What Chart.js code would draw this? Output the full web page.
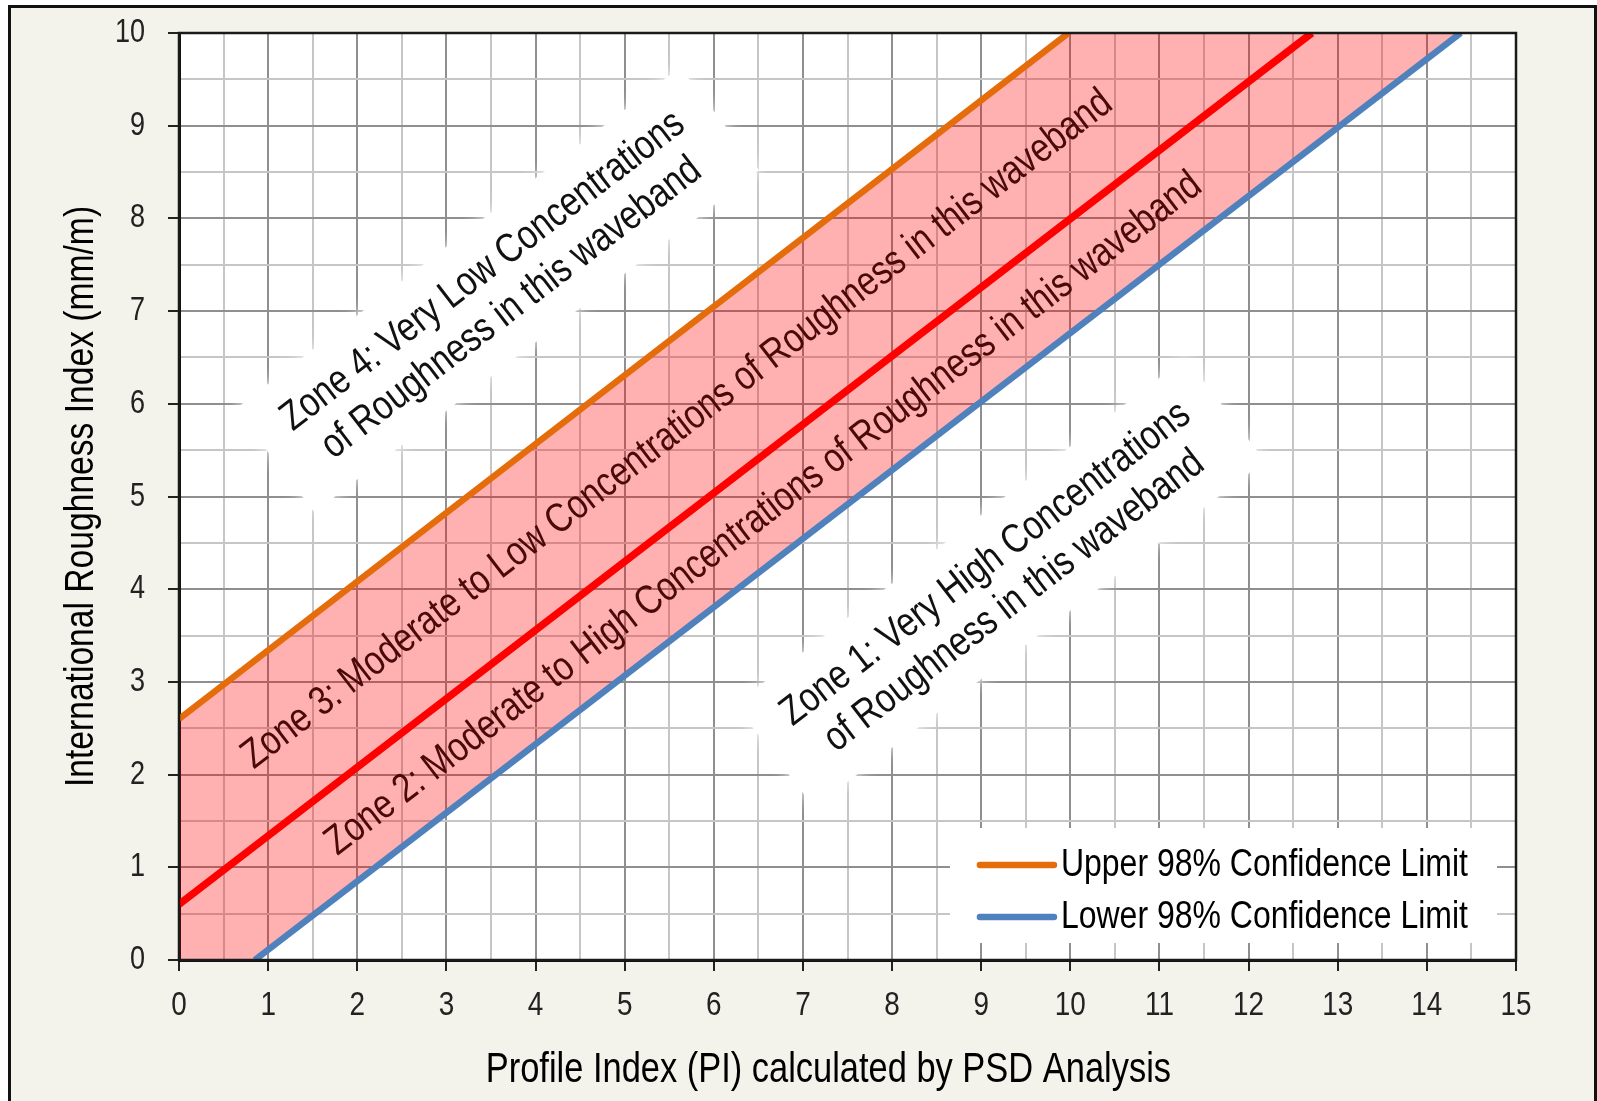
<!DOCTYPE html>
<html>
<head>
<meta charset="utf-8">
<script src="https://cdn.jsdelivr.net/npm/chart.js@4.4.1/dist/chart.umd.min.js"></script>
<style>
  html, body { margin: 0; padding: 0; background: #fff; overflow: hidden; }
  #frame { position: absolute; left: 8px; top: 5px; width: 1589px; height: 1120px;
           border: 3px solid #111; box-sizing: border-box; background: #f3f3eb; }
  #chart { position: absolute; left: 0; top: 0; }
</style>
</head>
<body>
<div id="frame"></div>
<canvas id="chart" width="1597" height="1101"></canvas>
<script>
// line end points (x = PI, y = IRI)
const upperX = [0, 9.98];
const upperY = [2.6, 10];
const meanX = [0, 12.71];
const meanY = [0.6, 10];
const lowerX = [0.85, 14.38];
const lowerY = [0, 10];

const xRange = [0, 15];
const yRange = [0, 10];
const gridStep = 0.5;

const seriesNames = ['Upper 98% Confidence Limit', 'Lower 98% Confidence Limit'];

const zoneTexts = [
  ['Zone 4: Very Low Concentrations', 'of Roughness in this waveband'],
  ['Zone 3: Moderate to Low Concentrations of Roughness in this waveband'],
  ['Zone 2: Moderate to High Concentrations of Roughness in this waveband'],
  ['Zone 1: Very High Concentrations', 'of Roughness in this waveband']
];
// label centres in data units
const zoneX = [3.57, 5.59, 6.56, 9.21];
const zoneY = [7.23, 5.72, 4.81, 4.07];

const fontFamily = '"Liberation Sans", Arial, sans-serif';
Chart.defaults.font.family = fontFamily;

// the original uses a narrow face; squeeze all canvas text horizontally
const squeeze = 0.82;
const canvas = document.getElementById('chart');
const c2d = canvas.getContext('2d');
const baseFill = c2d.fillText.bind(c2d);
const baseMeasure = c2d.measureText.bind(c2d);
c2d.fillText = function (text, x, y, maxWidth) {
  this.save();
  this.translate(x, y);
  this.scale(squeeze, 1);
  if (maxWidth === undefined) baseFill(text, 0, 0);
  else baseFill(text, 0, 0, maxWidth / squeeze);
  this.restore();
};
c2d.measureText = function (text) {
  const m = baseMeasure(text);
  return {
    width: m.width * squeeze,
    actualBoundingBoxLeft: m.actualBoundingBoxLeft * squeeze,
    actualBoundingBoxRight: m.actualBoundingBoxRight * squeeze,
    actualBoundingBoxAscent: m.actualBoundingBoxAscent,
    actualBoundingBoxDescent: m.actualBoundingBoxDescent,
    fontBoundingBoxAscent: m.fontBoundingBoxAscent,
    fontBoundingBoxDescent: m.fontBoundingBoxDescent
  };
};

function zip(xs, ys) {
  return xs.map((x, i) => ({x: x, y: ys[i]}));
}

const upperPts = zip(upperX, upperY);
const meanPts = zip(meanX, meanY);
const lowerPts = zip(lowerX, lowerY);
// band between the limits, closed along the x axis at the left
const bandPts = [{x: xRange[0], y: yRange[0]}].concat(upperPts, lowerPts.slice().reverse());

const zoneStyle = [
  {color: '#111', box: true},
  {color: '#4a0a0a', box: false},
  {color: '#4a0a0a', box: false},
  {color: '#111', box: true}
];

const isMajor = c => c.tick && Number.isInteger(c.tick.value);

const plotDecor = {
  id: 'plotDecor',
  beforeDraw(chart) {
    const {ctx, chartArea: a} = chart;
    ctx.save();
    ctx.fillStyle = '#fff';
    ctx.fillRect(a.left, a.top, a.right - a.left, a.bottom - a.top);
    ctx.restore();
  },
  afterDatasetsDraw(chart) {
    const {ctx, chartArea: a, scales: {x, y}} = chart;
    const x0 = x.getPixelForValue(meanX[0]), y0 = y.getPixelForValue(meanY[0]);
    const x1 = x.getPixelForValue(meanX[1]), y1 = y.getPixelForValue(meanY[1]);
    const angle = Math.atan2(y1 - y0, x1 - x0);

    ctx.save();
    ctx.beginPath();
    ctx.rect(a.left, a.top, a.right - a.left, a.bottom - a.top);
    ctx.clip();
    ctx.font = '41px ' + fontFamily;
    const lh = 47;
    zoneTexts.forEach((lines, i) => {
      ctx.save();
      ctx.translate(x.getPixelForValue(zoneX[i]), y.getPixelForValue(zoneY[i]));
      ctx.rotate(angle);
      const w = Math.max(...lines.map(t => ctx.measureText(t).width));
      const h = lines.length * lh;
      if (zoneStyle[i].box) {
        ctx.fillStyle = '#fff';
        ctx.shadowColor = '#fff';
        ctx.shadowBlur = 14;
        ctx.fillRect(-w / 2 - 32, -h / 2 - 18, w + 64, h + 36);
        ctx.shadowBlur = 0;
      }
      ctx.fillStyle = zoneStyle[i].color;
      ctx.textAlign = 'center';
      ctx.textBaseline = 'middle';
      lines.forEach((t, k) => ctx.fillText(t, 0, (k - (lines.length - 1) / 2) * lh));
      ctx.restore();
    });
    ctx.restore();

    // frame round the plot
    ctx.save();
    ctx.strokeStyle = '#1a1a1a';
    ctx.lineWidth = 2.5;
    ctx.strokeRect(a.left, a.top, a.right - a.left, a.bottom - a.top);
    ctx.restore();

    // legend, bottom right inside the plot
    const items = chart.data.datasets.filter(d => d.inLegend);
    ctx.save();
    ctx.font = '39px ' + fontFamily;
    const textW = Math.max(...items.map(d => ctx.measureText(d.label).width));
    const boxW = 29 + 76 + 6 + textW + 29;
    const boxH = 115;
    const bx = a.right - 19 - boxW;
    const by = a.bottom - 17 - boxH;
    ctx.fillStyle = '#fff';
    ctx.fillRect(bx, by, boxW, boxH);
    items.forEach((d, i) => {
      const cy = by + 37 + i * 52;
      ctx.strokeStyle = d.borderColor;
      ctx.lineWidth = 6.5;
      ctx.lineCap = 'round';
      ctx.beginPath();
      ctx.moveTo(bx + 30, cy);
      ctx.lineTo(bx + 104, cy);
      ctx.stroke();
      ctx.fillStyle = '#000';
      ctx.textAlign = 'left';
      ctx.textBaseline = 'middle';
      ctx.fillText(d.label, bx + 111, cy);
    });
    ctx.restore();
  }
};

new Chart(canvas, {
  type: 'scatter',
  data: {
    datasets: [
      {
        data: bandPts,
        showLine: true,
        borderWidth: 0,
        pointRadius: 0,
        fill: 'shape',
        backgroundColor: 'rgba(255, 0, 0, 0.31)',
        order: 5
      },
      {
        label: seriesNames[0],
        inLegend: true,
        data: upperPts,
        showLine: true,
        borderColor: '#E46C0A',
        borderWidth: 6.5,
        pointRadius: 0,
        order: 2
      },
      {
        label: 'PI to IRI',
        data: meanPts,
        showLine: true,
        borderColor: '#FF0000',
        borderWidth: 7.5,
        pointRadius: 0,
        order: 1
      },
      {
        label: seriesNames[1],
        inLegend: true,
        data: lowerPts,
        showLine: true,
        borderColor: '#4F81BD',
        borderWidth: 6.5,
        pointRadius: 0,
        order: 3
      }
    ]
  },
  options: {
    responsive: false,
    animation: false,
    devicePixelRatio: 1,
    layout: { padding: { top: 33, right: 81, left: 0, bottom: 0 } },
    plugins: { legend: { display: false }, tooltip: { enabled: false } },
    scales: {
      x: {
        type: 'linear',
        min: xRange[0],
        max: xRange[1],
        afterFit: s => { s.height = 141; },
        ticks: {
          stepSize: gridStep,
          autoSkip: false,
          maxRotation: 0,
          padding: 14,
          color: '#222',
          font: { size: 34 },
          callback: v => Number.isInteger(v) ? String(v) : ''
        },
        grid: {
          color: c => isMajor(c) ? '#8f8f8f' : '#c6c6c6',
          lineWidth: 2,
          tickLength: 11,
          tickColor: c => isMajor(c) ? '#222' : 'rgba(0,0,0,0)',
          tickWidth: 2
        },
        border: { color: '#111', width: 3 },
        title: {
          display: true,
          text: 'Profile Index (PI) calculated by PSD Analysis    ',
          color: '#000',
          font: { size: 42 },
          padding: { top: 0, bottom: 5 }
        }
      },
      y: {
        type: 'linear',
        min: yRange[0],
        max: yRange[1],
        afterFit: s => { s.width = 179; s.paddingTop = 0; s.paddingBottom = 0; },
        ticks: {
          stepSize: gridStep,
          autoSkip: false,
          padding: 23,
          color: '#222',
          font: { size: 33 },
          callback: v => Number.isInteger(v) ? String(v) : ''
        },
        grid: {
          color: c => isMajor(c) ? '#8f8f8f' : '#c6c6c6',
          lineWidth: 2,
          tickLength: 11,
          tickColor: c => isMajor(c) ? '#222' : 'rgba(0,0,0,0)',
          tickWidth: 2
        },
        border: { color: '#111', width: 3 },
        title: {
          display: true,
          text: 'International Roughness Index (mm/m)',
          color: '#000',
          font: { size: 41 },
          padding: { top: 57, bottom: 0 }
        }
      }
    }
  },
  plugins: [plotDecor]
});
</script>
</body>
</html>
